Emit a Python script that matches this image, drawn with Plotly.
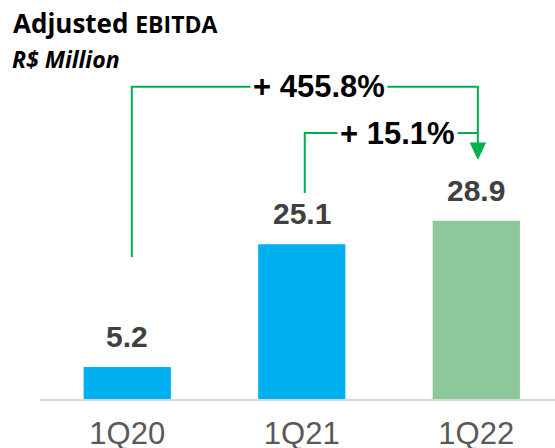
import plotly.graph_objects as go

# ---- data ----
categories = ["1Q20", "1Q21", "1Q22"]
values = [5.2, 25.1, 28.9]
bar_colors = ["#00B0F0", "#00B0F0", "#8DC89A"]
growth_labels = ["+ 455.8%", "+ 15.1%"]

GREEN = "#00B050"
PLOT_W, PLOT_H = 515, 399

fig = go.Figure()
fig.add_trace(go.Bar(
    x=list(range(len(categories))), y=values,
    marker=dict(color=bar_colors, line=dict(width=0)),
    width=0.5, hoverinfo="skip", showlegend=False,
))

# value labels
for i, v in enumerate(values):
    fig.add_annotation(x=i, y=v, xref="x", yref="y", text=f"<b>{v:.1f}</b>",
                       showarrow=False, yanchor="bottom", yshift=12,
                       font=dict(family="Liberation Sans, Arial", size=30, color="#404040"))

# bracket geometry (layout decoration)
tip_x = 2.009
b1_left, b1_bottom, b1_top = 0.026, 23.0, 50.6
b2_left, b2_bottom, b2_top = 1.017, 33.4, 43.1
arrow_base, arrow_tip, arrow_half = 41.5, 38.9, 0.043

line = dict(color=GREEN, width=2)
fig.add_shape(type="path", xref="x", yref="y",
              path=f"M {b1_left} {b1_bottom} L {b1_left} {b1_top} L {tip_x} {b1_top} L {tip_x} {arrow_base}",
              line=line, layer="above")
fig.add_shape(type="path", xref="x", yref="y",
              path=f"M {b2_left} {b2_bottom} L {b2_left} {b2_top} L {tip_x} {b2_top}",
              line=line, layer="above")
fig.add_shape(type="path", xref="x", yref="y",
              path=f"M {tip_x-arrow_half} {arrow_base} L {tip_x+arrow_half} {arrow_base} L {tip_x} {arrow_tip} Z",
              line=dict(color=GREEN, width=1), fillcolor=GREEN, layer="above")

fig.add_annotation(x=1.097, y=b1_top, xref="x", yref="y", text=f"<b>{growth_labels[0]}</b>",
                   showarrow=False, bgcolor="white", borderpad=2,
                   font=dict(family="Liberation Sans, Arial", size=31, color="#000000"))
fig.add_annotation(x=1.55, y=b2_top, xref="x", yref="y", text=f"<b>{growth_labels[1]}</b>",
                   showarrow=False, bgcolor="white", borderpad=2,
                   font=dict(family="Liberation Sans, Arial", size=31, color="#000000"))

# titles
fig.add_annotation(xref="paper", yref="paper", x=(11 - 40) / PLOT_W, y=1 - 3 / PLOT_H,
                   xanchor="left", yanchor="top", showarrow=False,
                   text="<b>Adjusted <span style='font-size:23px'>EBITDA</span></b>",
                   font=dict(family="Open Sans", size=26, color="#000000"))
fig.add_annotation(xref="paper", yref="paper", x=(10 - 40) / PLOT_W, y=1 - 41 / PLOT_H,
                   xanchor="left", yanchor="top", showarrow=False,
                   text="<b><i>R$ Million</i></b>",
                   font=dict(family="Open Sans", size=23, color="#000000"))

fig.update_layout(
    width=555, height=448,
    margin=dict(l=40, r=0, t=0, b=49, autoexpand=False),
    paper_bgcolor="white", plot_bgcolor="white",
    xaxis=dict(range=[-0.5, 2.451], tickmode="array", tickvals=list(range(len(categories))),
               ticktext=categories, showgrid=False, zeroline=False, automargin=False,
               showline=True, linecolor="#D9D9D9", linewidth=2,
               ticks="", ticklabelstandoff=6,
               tickfont=dict(family="Liberation Sans, Arial", size=31, color="#595959")),
    yaxis=dict(range=[0, PLOT_H / 6.17], visible=False, showgrid=False, zeroline=False,
               automargin=False),
    bargap=0.5,
)

fig.write_html("out.html", config={"displayModeBar": False},
               post_script="document.body.style.margin='0';")
